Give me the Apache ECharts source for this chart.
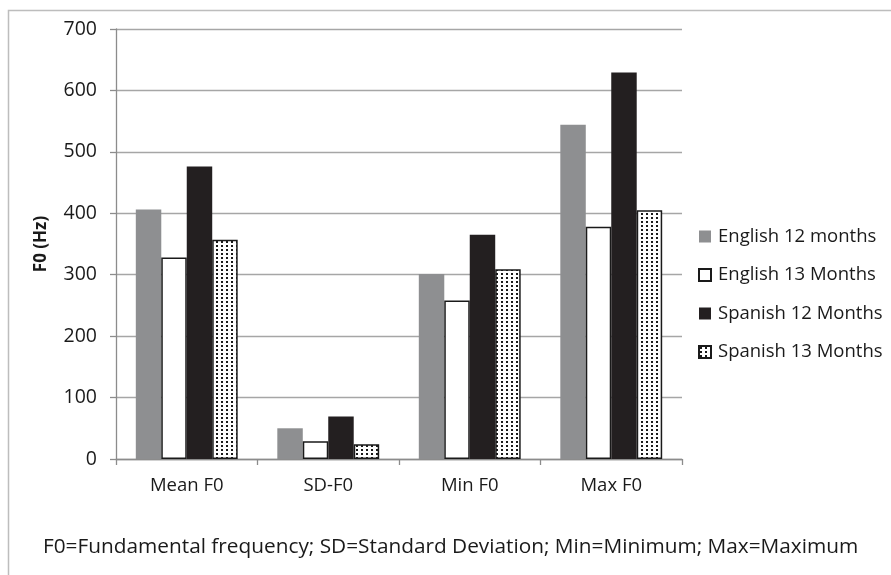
<!DOCTYPE html>
<html>
<head>
<meta charset="utf-8">
<script src="https://cdn.jsdelivr.net/npm/echarts@6/dist/echarts.min.js"></script>
<style>
  html, body { margin: 0; padding: 0; background: #fff; }
  #chart { width: 891px; height: 575px; }
</style>
</head>
<body>
<div id="chart"></div>
<script>
// Fundamental frequency measures by language group and age
const categories = ['Mean F0', 'SD-F0', 'Min F0', 'Max F0'];
const seriesNames = ['English 12 months', 'English 13 Months', 'Spanish 12 Months', 'Spanish 13 Months'];
const english12 = [406, 50, 301, 544];
const english13 = [328, 29, 258, 378];
const spanish12 = [476, 69, 365, 629];
const spanish13 = [357, 24, 309, 405];
const yTicks = [0, 100, 200, 300, 400, 500, 600, 700];
const footnote = 'F0=Fundamental frequency; SD=Standard Deviation; Min=Minimum; Max=Maximum';

const FONT = '"Open Sans", Lato, sans-serif';

// Small dotted fill used for the last series
function dotPattern() {
  const c = document.createElement('canvas');
  c.width = 5; c.height = 4;
  const ctx = c.getContext('2d');
  ctx.fillStyle = '#ffffff';
  ctx.fillRect(0, 0, 5, 4);
  ctx.fillStyle = '#1a1a1a';
  ctx.fillRect(1, 1, 2, 2);
  return c;
}

const chart = echarts.init(document.getElementById('chart'), null, { renderer: 'canvas' });

const styles = [
  { color: '#8e8f91', borderWidth: 0 },
  { color: '#ffffff', borderColor: '#1a1a1a', borderWidth: 1.5 },
  { color: '#231f20', borderWidth: 0 },
  { color: { image: dotPattern(), repeat: 'repeat' }, borderColor: '#1a1a1a', borderWidth: 1.5 }
];
const values = [english12, english13, spanish12, spanish13];

chart.setOption({
  animation: false,
  backgroundColor: '#ffffff',
  grid: { left: 116, right: 209, top: 29, bottom: 116, containLabel: false },
  legend: {
    orient: 'vertical',
    left: 693,
    top: 222,
    itemWidth: 12,
    itemHeight: 12,
    itemGap: 19.5,
    icon: 'rect',
    textStyle: { fontFamily: FONT, fontSize: 18.5, color: '#1a1a1a', padding: [0, 0, 0, 2] },
    data: seriesNames
  },
  xAxis: {
    type: 'category',
    data: categories,
    axisLine: { lineStyle: { color: '#8c8c8c', width: 1.3 } },
    axisTick: { show: true, length: 6, lineStyle: { color: '#8c8c8c', width: 1.3 } },
    axisLabel: { fontFamily: FONT, fontSize: 18.5, color: '#1a1a1a', margin: 17 }
  },
  yAxis: {
    type: 'value',
    min: yTicks[0],
    max: yTicks[yTicks.length - 1],
    interval: 100,
    name: 'F0 (Hz)',
    nameLocation: 'middle',
    nameGap: 66,
    nameRotate: 90,
    nameTextStyle: { fontFamily: FONT, fontSize: 17, fontWeight: 'bold', color: '#1a1a1a' },
    axisLine: { show: true, lineStyle: { color: '#8c8c8c', width: 1.3 } },
    axisTick: { show: true, length: 6, lineStyle: { color: '#8c8c8c', width: 1.3 } },
    axisLabel: { fontFamily: FONT, fontSize: 19.5, color: '#1a1a1a', margin: 19 },
    splitLine: { lineStyle: { color: '#a6a6a6', width: 1.3 } }
  },
  series: seriesNames.map((name, i) => ({
    name,
    type: 'bar',
    data: values[i],
    barGap: '0%',
    barCategoryGap: '28%',
    itemStyle: styles[i]
  })),
  graphic: [
    {
      type: 'rect',
      shape: { x: 8.5, y: 10.5, width: 1000, height: 1000 },
      style: { fill: null, stroke: '#bdbdbd', lineWidth: 1.5 },
      silent: true,
      z: -1
    },
    {
      type: 'text',
      left: 43,
      top: 537,
      style: { text: footnote, font: '20.8px ' + FONT, fill: '#1a1a1a' }
    }
  ]
});
</script>
</body>
</html>
